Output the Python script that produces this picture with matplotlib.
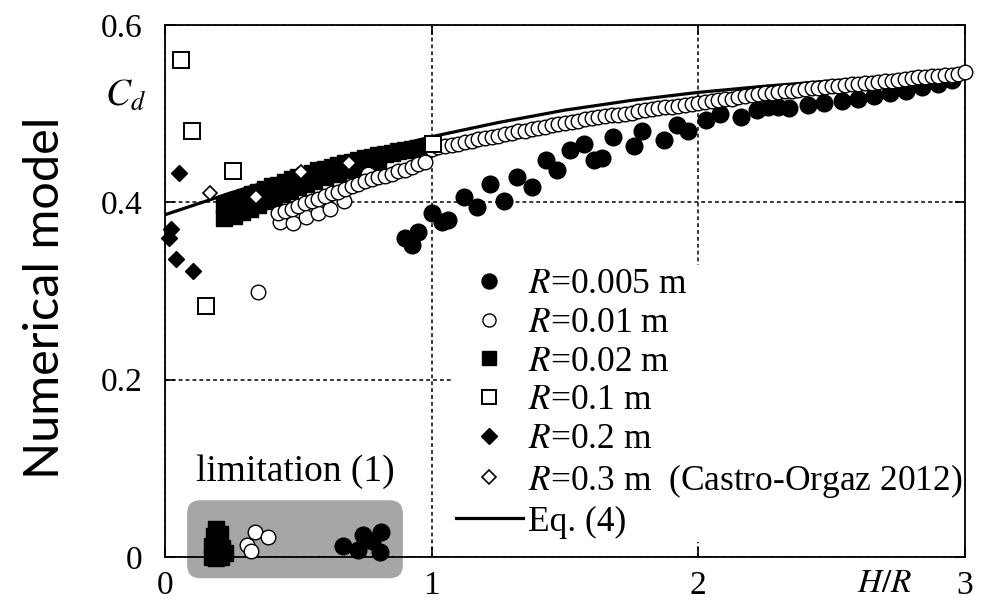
import matplotlib
matplotlib.use("Agg")
import matplotlib.pyplot as plt
from matplotlib.patches import FancyBboxPatch

plt.rcParams['font.family'] = ['Liberation Serif', 'DejaVu Serif']
plt.rcParams['mathtext.fontset'] = 'stix'

# R = 0.005 m (filled circles)
r005_x = [0.90, 0.925, 0.95, 1.00, 1.04, 1.06, 1.12, 1.17, 1.22, 1.27, 1.32, 1.375,
          1.43, 1.47, 1.52, 1.57, 1.61, 1.64, 1.68, 1.76, 1.79, 1.87, 1.92, 1.96,
          2.03, 2.08, 2.16, 2.22, 2.26, 2.30, 2.34, 2.41, 2.47, 2.54, 2.60, 2.66,
          2.72, 2.78, 2.84, 2.90, 2.95]
r005_y = [0.360, 0.352, 0.367, 0.388, 0.378, 0.380, 0.406, 0.395, 0.421, 0.402, 0.429, 0.417,
          0.448, 0.436, 0.459, 0.466, 0.448, 0.450, 0.474, 0.463, 0.481, 0.470, 0.487, 0.481,
          0.493, 0.500, 0.496, 0.504, 0.508, 0.508, 0.506, 0.510, 0.512, 0.514, 0.517, 0.520,
          0.523, 0.526, 0.530, 0.534, 0.538]
r005_lim_x = [0.668, 0.725, 0.744, 0.81, 0.806, 0.775]
r005_lim_y = [0.012, 0.008, 0.025, 0.028, 0.006, 0.018]

# R = 0.01 m (open circles)
r001_x = [0.35,
          0.43, 0.48, 0.53, 0.575, 0.62, 0.67, 0.76,
          0.425, 0.45, 0.475, 0.50, 0.525, 0.55, 0.575, 0.60, 0.625, 0.65, 0.675, 0.70,
          0.725, 0.75, 0.775, 0.80, 0.825, 0.85, 0.875, 0.90, 0.925, 0.95, 0.975,
          1.000, 1.025, 1.050, 1.075, 1.100, 1.125, 1.150, 1.175, 1.200, 1.225, 1.250,
          1.275, 1.300, 1.325, 1.350, 1.375, 1.400, 1.425, 1.450, 1.475, 1.500, 1.525,
          1.550, 1.575, 1.600, 1.625, 1.650, 1.675, 1.700, 1.725, 1.750, 1.775, 1.800,
          1.825, 1.850, 1.875, 1.900, 1.925, 1.950, 1.975, 2.000, 2.025, 2.050, 2.075,
          2.100, 2.125, 2.150, 2.175, 2.200, 2.225, 2.250, 2.275, 2.300, 2.325, 2.350,
          2.375, 2.400, 2.425, 2.450, 2.475, 2.500, 2.525, 2.550, 2.575, 2.600, 2.625,
          2.650, 2.675, 2.700, 2.725, 2.750, 2.775, 2.800, 2.825, 2.850, 2.875, 2.900,
          2.925, 2.950, 2.975, 3.000]
r001_y = [0.299,
          0.378, 0.377, 0.384, 0.388, 0.393, 0.402, 0.432,
          0.388, 0.390, 0.393, 0.396, 0.399, 0.401, 0.404, 0.407, 0.410, 0.412, 0.415, 0.418,
          0.421, 0.424, 0.426, 0.428, 0.430, 0.432, 0.435, 0.437, 0.440, 0.443, 0.446,
          0.460, 0.462, 0.463, 0.465, 0.466, 0.468, 0.469, 0.471, 0.472, 0.474, 0.475,
          0.477, 0.478, 0.480, 0.481, 0.483, 0.484, 0.485, 0.487, 0.488, 0.489, 0.491,
          0.492, 0.494, 0.495, 0.496, 0.497, 0.498, 0.499, 0.500, 0.501, 0.503, 0.504,
          0.505, 0.506, 0.507, 0.508, 0.509, 0.510, 0.511, 0.512, 0.513, 0.514, 0.515,
          0.516, 0.517, 0.519, 0.520, 0.521, 0.522, 0.523, 0.523, 0.524, 0.525, 0.526,
          0.527, 0.528, 0.529, 0.529, 0.530, 0.531, 0.531, 0.532, 0.533, 0.534, 0.535,
          0.535, 0.536, 0.537, 0.537, 0.538, 0.539, 0.540, 0.541, 0.541, 0.542, 0.543,
          0.544, 0.544, 0.545, 0.547]
r001_lim_x = [0.337, 0.387, 0.306, 0.322]
r001_lim_y = [0.0285, 0.022, 0.0135, 0.007]

# R = 0.02 m (filled squares)
r002_x = [0.22, 0.25, 0.275, 0.30, 0.325, 0.35, 0.375, 0.40, 0.425, 0.45, 0.475, 0.50,
          0.525, 0.55, 0.575, 0.60, 0.625, 0.65, 0.675, 0.70, 0.725, 0.75, 0.775, 0.80,
          0.825, 0.85, 0.875, 0.90, 0.925, 0.95, 0.975,
          0.22, 0.26, 0.29, 0.32, 0.35, 0.38, 0.41, 0.44, 0.47, 0.50, 0.53, 0.56, 0.60,
          0.65, 0.70, 0.75, 0.80]
r002_y = [0.397, 0.400, 0.403, 0.406, 0.409, 0.412, 0.415, 0.418, 0.420, 0.423, 0.426, 0.428,
          0.431, 0.433, 0.436, 0.438, 0.440, 0.442, 0.444, 0.446, 0.448, 0.450, 0.451, 0.453,
          0.455, 0.456, 0.458, 0.459, 0.460, 0.461, 0.462,
          0.382, 0.385, 0.389, 0.393, 0.397, 0.401, 0.405, 0.409, 0.413, 0.417, 0.421, 0.424, 0.428,
          0.432, 0.436, 0.440, 0.444]
r002_lim_x = [0.175, 0.19, 0.21, 0.175, 0.195, 0.215, 0.185, 0.205, 0.193, 0.225]
r002_lim_y = [0.000, -0.001, 0.000, 0.012, 0.015, 0.010, 0.024, 0.026, 0.032, 0.005]

# R = 0.1 m (open squares)
r01_x = [0.059, 0.10, 0.256, 0.154, 1.005]
r01_y = [0.561, 0.481, 0.435, 0.283, 0.466]

# R = 0.2 m (filled diamonds)
r02_x = [0.054, 0.022, 0.015, 0.041, 0.104]
r02_y = [0.433, 0.370, 0.360, 0.336, 0.323]

# R = 0.3 m, Castro-Orgaz 2012 (open diamonds)
r03_x = [0.17, 0.34, 0.51, 0.69]
r03_y = [0.410, 0.406, 0.434, 0.444]

# Eq. (4)
eq_x = [0.0, 0.25, 0.5, 0.75, 1.0, 1.25, 1.5, 1.75, 2.0, 2.25, 2.5, 2.75, 3.0]
eq_y = [0.386, 0.411, 0.434, 0.455, 0.474, 0.490, 0.504, 0.515, 0.524, 0.531, 0.537, 0.542, 0.547]

fig = plt.figure(figsize=(9.85, 6.08), dpi=100)
ax = fig.add_axes([0.1675, 0.0839, 0.8122, 0.875])

# limitation (1) box
box = FancyBboxPatch((0.083, -0.024), 0.809, 0.088,
                     boxstyle="round,pad=0,rounding_size=0.05",
                     mutation_aspect=0.3, facecolor='#a6a6a6', edgecolor='none',
                     zorder=1, clip_on=False)
ax.add_patch(box)
ax.text(0.49, 0.086, 'limitation (1)', fontsize=27, ha='center', va='baseline')

eq_line, = ax.plot(eq_x, eq_y, color='black', lw=2.3, zorder=3, label='Eq. (4)')

kw = dict(linestyle='none', clip_on=False)
h005, = ax.plot(r005_x, r005_y, marker='o', ms=12, mfc='black', mec='black', zorder=3,
                label='$R$=0.005 m', **kw)
ax.plot(r005_lim_x, r005_lim_y, marker='o', ms=12, mfc='black', mec='black', zorder=3, **kw)
h002, = ax.plot(r002_x, r002_y, marker='s', ms=11, mfc='black', mec='black', zorder=3,
                label='$R$=0.02 m', **kw)
ax.plot(r002_lim_x, r002_lim_y, marker='s', ms=11, mfc='black', mec='black', zorder=3, **kw)
h001, = ax.plot(r001_x, r001_y, marker='o', ms=10.5, mfc='white', mec='black', mew=1.0,
                zorder=4, label='$R$=0.01 m', **kw)
ax.plot(r001_lim_x, r001_lim_y, marker='o', ms=10.5, mfc='white', mec='black', mew=1.0,
        zorder=4, **kw)
h02, = ax.plot(r02_x, r02_y, marker='D', ms=8.5, mfc='black', mec='black', zorder=4,
               label='$R$=0.2 m', **kw)
h01, = ax.plot(r01_x, r01_y, marker='s', ms=11.5, mfc='white', mec='black', mew=1.4,
               zorder=5, label='$R$=0.1 m', **kw)
h03, = ax.plot(r03_x, r03_y, marker='D', ms=7.5, mfc='white', mec='black', mew=1.2,
               zorder=5, label='$R$=0.3 m  (Castro-Orgaz 2012)', **kw)

ax.set_xlim(0, 3)
ax.set_ylim(0, 0.6)
ax.set_xticks([0, 1, 2, 3])
ax.set_xticklabels(['0', '1', '2', '3'])
ax.set_yticks([0, 0.2, 0.4, 0.6])
ax.set_yticklabels(['0', '0.2', '0.4', '0.6'])
ax.grid(True, color='black', linestyle=(0, (2.5, 2)), lw=1.1)
ax.tick_params(direction='in', top=True, right=True, length=7, width=1.2,
               labelsize=24)
ax.tick_params(axis='y', pad=16)
ax.tick_params(axis='x', pad=10)
for s in ax.spines.values():
    s.set_linewidth(1.3)

ax.text(-0.15, 0.52, '$C_d$', fontsize=27, ha='center', va='center')
ax.text(2.70, -0.03, '$H/R$', fontsize=24, ha='center', va='center')

fig.text(0.046, 0.51, 'Numerical model', rotation=90, fontsize=35,
         family='Lato', ha='center', va='center')

leg = ax.legend(handles=[h005, h001, h002, h01, h02, h03, eq_line],
                loc='upper left', bbox_to_anchor=(0.359, 0.549), fontsize=25.5,
                frameon=True, facecolor='white', edgecolor='none', framealpha=1,
                fancybox=False, borderpad=0.1, borderaxespad=0, labelspacing=0.16,
                handlelength=1.9, handletextpad=0.15, markerscale=0.9, numpoints=1)
# keep the legend under the spines so the right spine stays visible
leg.set_zorder(2.4)

fig.savefig('out.png', dpi=100)
